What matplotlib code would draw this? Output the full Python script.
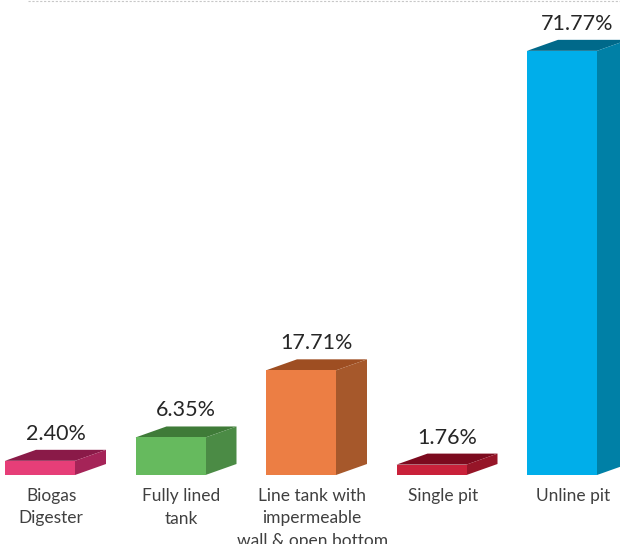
import matplotlib
matplotlib.use("Agg")
import matplotlib.pyplot as plt
from matplotlib.patches import Polygon

categories = ["Biogas\nDigester", "Fully lined\ntank", "Line tank with\nimpermeable\nwall & open bottom",
              "Single pit", "Unline pit"]
values = [2.40, 6.35, 17.71, 1.76, 71.77]
value_labels = ["2.40%", "6.35%", "17.71%", "1.76%", "71.77%"]

front_colors = ["#E63E78", "#66BA5E", "#EC7E44", "#C9213A", "#00AEEA"]
top_colors = ["#8A1A48", "#3F7B38", "#9E4E22", "#7C0A1E", "#00698A"]
side_colors = ["#A52458", "#4B8B45", "#A6582B", "#961528", "#0080A6"]

W, H = 620, 544
fig = plt.figure(figsize=(W / 100, H / 100), dpi=100)
ax = fig.add_axes([0, 0, 1, 1])

px_x = 130.5          # pixels per category unit
px_y = 5.91           # pixels per percent
x_left = -40 / px_x
x_right = (W - 40) / px_x
y_top = 475 / px_y
y_bot = -(H - 475) / px_y
ax.set_xlim(x_left, x_right)
ax.set_ylim(y_bot, y_top)
ax.axis("off")

bw = 70 / px_x        # front width
dx = 31 / px_x        # depth x
dy = 11 / px_y        # depth y

xs = list(range(len(values)))
ax.bar(xs, values, width=bw, color=front_colors, zorder=3, linewidth=0)
for i, v in zip(xs, values):
    x0, x1 = i - bw / 2, i + bw / 2
    top = Polygon([(x0, v), (x0 + dx, v + dy), (x1 + dx, v + dy), (x1, v)],
                  closed=True, facecolor=top_colors[i], edgecolor="none", zorder=2)
    side = Polygon([(x1, 0), (x1, v), (x1 + dx, v + dy), (x1 + dx, dy)],
                   closed=True, facecolor=side_colors[i], edgecolor="none", zorder=2)
    ax.add_patch(top)
    ax.add_patch(side)
    ax.text(i + dx / 2, v + dy + 10 / px_y, value_labels[i], ha="center", va="baseline",
            fontsize=15.5, color="#262626", family=["Lato", "DejaVu Sans"])
    ax.text(i + 0.085, -13 / px_y, categories[i], ha="center", va="top",
            fontsize=12.5, color="#404040", family=["Lato", "DejaVu Sans"],
            linespacing=1.5)

ax.axhline(y_top - 1 / px_y, xmin=28 / W, xmax=1, color="#C8C8C8", lw=0.8,
           ls=(0, (2, 1.5)))

fig.savefig("out.png", dpi=100)
